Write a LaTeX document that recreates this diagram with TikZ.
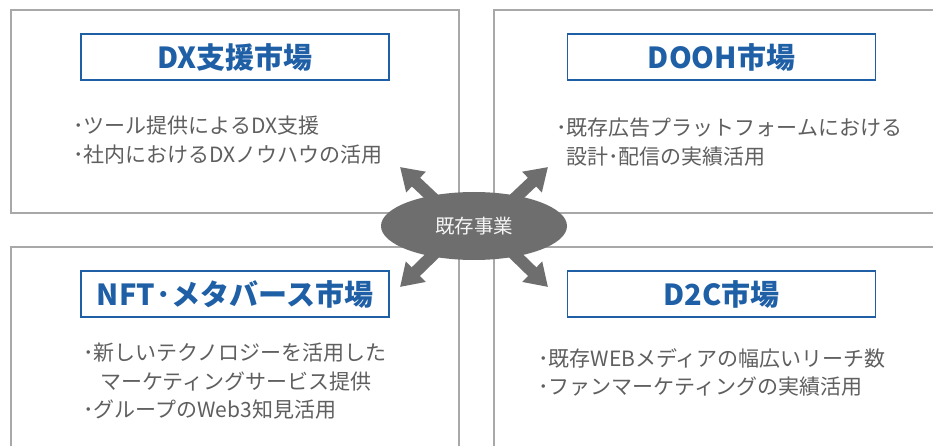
\documentclass[tikz,border=0pt]{standalone}
\usepackage{fontspec}
\setmainfont{Noto Sans CJK JP}
\usetikzlibrary{shapes.geometric,arrows.meta}
\definecolor{tblue}{HTML}{1F5FA6}
\definecolor{bgray}{HTML}{A8A8A8}
\definecolor{tgray}{HTML}{5F5F5F}
\definecolor{egray}{HTML}{6E6E6E}
\tikzset{
  outerbox/.style={draw=bgray, line width=1.8pt},
  titlebox/.style={draw=tblue, line width=1.6pt, fill=white, minimum width=308pt, minimum height=46pt, inner sep=0pt, text=tblue, font=\fontsize{29}{32}\selectfont\bfseries},
  bodytext/.style={anchor=west, inner sep=0pt, align=left, text=tgray, font=\fontsize{21}{28.5}\selectfont},
  bigarrow/.style={draw=egray, line width=12pt, -{Triangle[width=27pt,length=22pt]}},
}
\begin{document}
\begin{tikzpicture}[x=1pt,y=-1pt]
\clip (0,0) rectangle (933,446);
\fill[white] (0,0) rectangle (933,446);
% outer boxes
\draw[outerbox] (11,10) rectangle (459,213);
\draw[outerbox] (494,10) rectangle (945,213);
\draw[outerbox] (11,247) rectangle (459,460);
\draw[outerbox] (494,247) rectangle (945,460);
% titles
\node[titlebox] (t1) at (235,57) {DX支援市場};
\node[titlebox] (t2) at (721.5,57) {DOOH市場};
\node[titlebox] (t3) at (235,294) {NFT\hspace{1pt}･\hspace{1pt}メタバース市場};
\node[titlebox] (t4) at (721.5,294) {D2C市場};
% bodies
\node[bodytext] (b1) at (73,140) {･ツール提供によるDX支援\\･社内におけるDXノウハウの活用};
\node[bodytext] (b2) at (556,142) {･既存広告プラットフォームにおける\\\hspace*{10pt}設計･配信の実績活用};
\node[bodytext] (b3) at (83,381.5) {･新しいテクノロジーを活用した\\\hspace*{17pt}マーケティングサービス提供\\･グループのWeb3知見活用};
\node[bodytext] (b4) at (538,372.5) {･既存WEBメディアの幅広いリーチ数\\･ファンマーケティングの実績活用};
% arrows (tails hidden under the ellipse)
\coordinate (s1) at (436,201); \coordinate (e1) at (400,167);
\coordinate (s2) at (512,201); \coordinate (e2) at (548,167);
\coordinate (s3) at (436,252); \coordinate (e3) at (400,287);
\coordinate (s4) at (512,252); \coordinate (e4) at (548,287);
\draw[bigarrow] (s1) -- (e1);
\draw[bigarrow] (s2) -- (e2);
\draw[bigarrow] (s3) -- (e3);
\draw[bigarrow] (s4) -- (e4);
% center ellipse
\node[ellipse, fill=egray, minimum width=186pt, minimum height=68pt, inner sep=0pt, text=white!92!gray, font=\fontsize{19.5}{21}\selectfont] (core) at (474,226) {既存事業};
\end{tikzpicture}
\end{document}
